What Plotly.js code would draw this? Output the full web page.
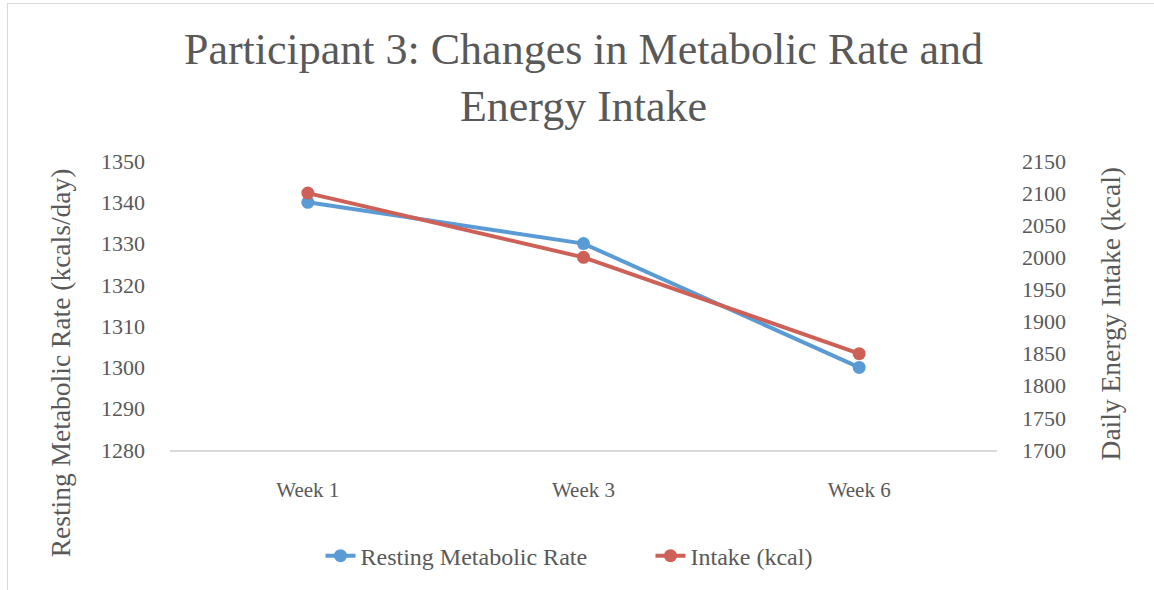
<!DOCTYPE html>
<html>
<head>
<meta charset="utf-8">
<script src="https://cdn.plot.ly/plotly-3.0.1.min.js"></script>
<style>
  html, body { margin: 0; padding: 0; background: #fff; }
  #wrap { position: relative; width: 1154px; height: 590px; overflow: hidden; }
  #chart { width: 1154px; height: 590px; }
  #frame { position: absolute; left: 7px; top: 3px; width: 1160px; height: 600px;
           border-left: 1px solid #d9d9d9; border-top: 1px solid #d9d9d9; pointer-events: none; }
</style>
</head>
<body>
<div id="wrap">
  <div id="chart"></div>
  <div id="frame"></div>
</div>
<script>
const weeks = ["Week 1", "Week 3", "Week 6"];
const restingMetabolicRate = [1340, 1330, 1300];
const intakeKcal = [2100, 2000, 1850];

const FONT = "Liberation Serif, 'DejaVu Serif', serif";
const GREY = "#595959";

const traces = [
  {
    x: weeks, y: restingMetabolicRate, name: "Resting Metabolic Rate",
    type: "scatter", mode: "lines+markers", yaxis: "y",
    line: { color: "#5B9BD5", width: 4 },
    marker: { color: "#5B9BD5", size: 13 }
  },
  {
    x: weeks, y: intakeKcal, name: "Intake (kcal)",
    type: "scatter", mode: "lines+markers", yaxis: "y2",
    line: { color: "#CD6158", width: 4 },
    marker: { color: "#CD6158", size: 13 }
  }
];

const layout = {
  width: 1154, height: 590,
  paper_bgcolor: "#fff", plot_bgcolor: "#fff",
  margin: { l: 170, r: 157, t: 161, b: 140 },
  font: { family: FONT, color: GREY, size: 22 },
  title: {
    text: "Participant 3: Changes in Metabolic Rate and<br>Energy Intake",
    font: { family: FONT, size: 44, color: GREY },
    xref: "paper", x: 0.5, xanchor: "center", y: 0.892, yanchor: "top"
  },
  showlegend: true,
  legend: {
    orientation: "h", x: 0.581, xanchor: "center", y: -0.367, yanchor: "middle",
    font: { family: FONT, size: 24, color: GREY },
    entrywidth: 285, entrywidthmode: "pixels",
    tracegroupgap: 0
  },
  xaxis: {
    type: "category", range: [-0.5, 2.5],
    showgrid: false, zeroline: false,
    showline: true, linecolor: "#d9d9d9", linewidth: 1.5,
    ticks: "", ticklabelstandoff: 20,
    tickfont: { family: FONT, size: 21, color: GREY }
  },
  yaxis: {
    range: [1280, 1350], dtick: 10, tick0: 1280,
    showgrid: false, zeroline: false, showline: false,
    ticks: "", ticklabelstandoff: 24,
    tickfont: { family: FONT, size: 22, color: GREY }
  },
  yaxis2: {
    overlaying: "y", side: "right",
    range: [1700, 2150], dtick: 50, tick0: 1700,
    showgrid: false, zeroline: false, showline: false,
    ticks: "", ticklabelstandoff: 24,
    tickfont: { family: FONT, size: 22, color: GREY }
  },
  annotations: [
    {
      text: "Resting Metabolic Rate (kcals/day)", textangle: -90,
      xref: "paper", yref: "paper", x: -0.133, y: 0.30, xanchor: "center", yanchor: "middle",
      showarrow: false, font: { family: FONT, size: 27.5, color: GREY }
    },
    {
      text: "Daily Energy Intake (kcal)", textangle: -90,
      xref: "paper", yref: "paper", x: 1.137, y: 0.47, xanchor: "center", yanchor: "middle",
      showarrow: false, font: { family: FONT, size: 27.5, color: GREY }
    }
  ]
};

Plotly.newPlot("chart", traces, layout, { displayModeBar: false, staticPlot: true });
</script>
</body>
</html>
